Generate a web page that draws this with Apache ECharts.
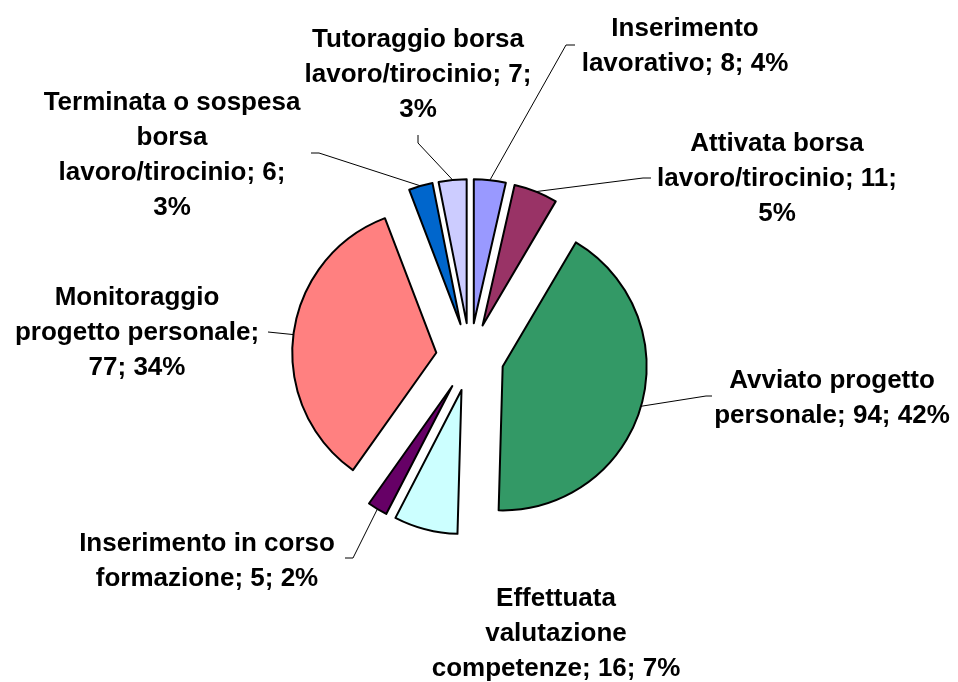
<!DOCTYPE html>
<html style="height: 100%">
<head>
    <meta charset="utf-8">
    <script src="https://cdn.jsdelivr.net/npm/echarts@6/dist/echarts.min.js"></script>
</head>
<body style="height: 100%; margin: 0; background: #fff">
    <div id="container" style="width: 958px; height: 682px"></div>
    <script type="text/javascript">
        // dati
        var categories = [
            'Inserimento lavorativo',
            'Attivata borsa lavoro/tirocinio',
            'Avviato progetto personale',
            'Effettuata valutazione competenze',
            'Inserimento in corso formazione',
            'Monitoraggio progetto personale',
            'Terminata o sospesa borsa lavoro/tirocinio',
            'Tutoraggio borsa lavoro/tirocinio'
        ];
        var values = [8, 11, 94, 16, 5, 77, 6, 7];
        var colors = ['#9999FF', '#993366', '#339966', '#CCFFFF', '#660066', '#FF8080', '#0066CC', '#CCCCFF'];

        // layout etichette: [centroX, centroY, gomitoX, gomitoY, puntaX, puntaY]
        var labelPos = [
            [685, 46, 566, 45, 575, 45],
            [777, 179, 643, 178, 651, 178],
            [832, 398, 706, 396, 712, 396],
            [556, 634, null, null, null, null],
            [207, 561, 353, 558, 345, 558],
            [137, 333, 268, 332, 268, 332],
            [172, 155, 319, 153, 311, 153],
            [418, 75, 418, 143, 418, 135]
        ];
        var wrapWidths = [230, 255, 245, 262, 265, 255, 266, 240];

        var CENTER = [470, 357];
        var RADIUS = 144;
        var EXPLODE = 34;

        var FONT = 'bold 26px "Liberation Sans"';
        var ctx = document.createElement('canvas').getContext('2d');
        ctx.font = FONT;

        // a capo solo sugli spazi, come Excel
        function wrap(text, maxW) {
            var words = text.split(' ');
            var lines = [];
            var cur = '';
            words.forEach(function (w) {
                var test = cur ? cur + ' ' + w : w;
                if (cur && ctx.measureText(test).width > maxW) {
                    lines.push(cur);
                    cur = w;
                } else {
                    cur = test;
                }
            });
            if (cur) lines.push(cur);
            return lines.join('\n');
        }

        var dom = document.getElementById('container');
        var myChart = echarts.init(dom);

        // fette esplose
        var sliceData = categories.map(function (name, i) {
            return { name: name, value: values[i], selected: true, itemStyle: { color: colors[i] } };
        });
        // stesse fette, invisibili, solo per le etichette
        var labelData = categories.map(function (name, i) {
            return { name: name, value: values[i], labelLine: { show: labelPos[i][2] != null } };
        });

        myChart.setOption({
            animation: false,
            series: [{
                type: 'pie',
                center: CENTER,
                radius: RADIUS,
                startAngle: 90,
                clockwise: true,
                selectedMode: 'multiple',
                selectedOffset: EXPLODE,
                avoidLabelOverlap: false,
                emphasis: { disabled: true },
                itemStyle: {
                    borderColor: '#000',
                    borderWidth: 2
                },
                label: { show: false },
                labelLine: { show: false },
                data: sliceData
            }, {
                type: 'pie',
                center: CENTER,
                radius: RADIUS,
                startAngle: 90,
                clockwise: true,
                silent: true,
                percentPrecision: 0,
                avoidLabelOverlap: false,
                emphasis: { disabled: true },
                itemStyle: { color: 'rgba(0,0,0,0)', borderWidth: 0 },
                label: {
                    show: true,
                    position: 'outside',
                    alignTo: 'none',
                    color: '#000',
                    fontSize: 26,
                    fontWeight: 'bold',
                    fontFamily: 'Liberation Sans',
                    lineHeight: 35,
                    align: 'center',
                    formatter: function (p) {
                        return wrap(p.name + '; ' + p.value + '; ' + p.percent + '%', wrapWidths[p.dataIndex]);
                    }
                },
                labelLine: {
                    show: true,
                    length: 10,
                    length2: 10,
                    lineStyle: { color: '#000', width: 1 }
                },
                labelLayout: function (params) {
                    var L = labelPos[params.dataIndex];
                    var out = { x: L[0], y: L[1], align: 'center', verticalAlign: 'middle' };
                    if (L[2] != null && params.labelLinePoints) {
                        var p0 = params.labelLinePoints[0];
                        var ux = (p0[0] - CENTER[0]) / RADIUS;
                        var uy = (p0[1] - CENTER[1]) / RADIUS;
                        var start = [p0[0] + ux * EXPLODE, p0[1] + uy * EXPLODE];
                        out.labelLinePoints = [start, [L[2], L[3]], [L[4], L[5]]];
                    }
                    return out;
                },
                data: labelData
            }]
        });
    </script>
</body>
</html>
